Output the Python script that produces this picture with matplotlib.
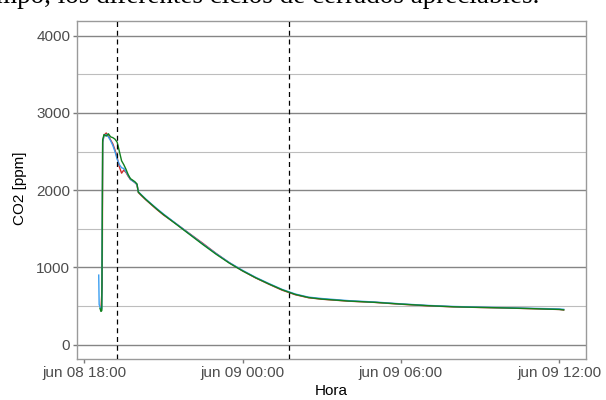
import matplotlib
matplotlib.use("Agg")
import matplotlib.pyplot as plt
import pandas as pd

# ---- data ----
times_green = ["2021-06-08 18:36", "2021-06-08 18:38", "2021-06-08 18:40", "2021-06-08 18:42",
               "2021-06-08 18:45", "2021-06-08 18:50", "2021-06-08 18:55", "2021-06-08 19:00",
               "2021-06-08 19:05", "2021-06-08 19:10", "2021-06-08 19:15", "2021-06-08 19:20",
               "2021-06-08 19:25", "2021-06-08 19:30", "2021-06-08 19:35", "2021-06-08 19:40",
               "2021-06-08 19:45", "2021-06-08 19:50", "2021-06-08 19:55", "2021-06-08 20:00",
               "2021-06-08 20:03", "2021-06-08 20:10", "2021-06-08 20:20", "2021-06-08 20:30",
               "2021-06-08 20:45", "2021-06-08 21:00", "2021-06-08 21:30", "2021-06-08 22:00",
               "2021-06-08 22:30", "2021-06-08 23:00", "2021-06-08 23:30", "2021-06-09 00:00",
               "2021-06-09 00:30", "2021-06-09 01:00", "2021-06-09 01:30", "2021-06-09 02:00",
               "2021-06-09 02:30", "2021-06-09 03:00", "2021-06-09 04:00", "2021-06-09 05:00",
               "2021-06-09 06:00", "2021-06-09 07:00", "2021-06-09 08:00", "2021-06-09 09:00",
               "2021-06-09 10:00", "2021-06-09 11:00", "2021-06-09 12:00", "2021-06-09 12:10"]
co2_green = [470, 430, 440, 2650, 2720, 2700, 2730, 2690, 2680, 2660, 2620, 2500,
             2380, 2330, 2270, 2200, 2150, 2130, 2110, 2080, 1975, 1935, 1880, 1830,
             1755, 1685, 1555, 1425, 1295, 1170, 1055, 955, 865, 785, 710, 650,
             610, 590, 565, 548, 525, 505, 490, 482, 475, 466, 456, 450]

times_red = ["2021-06-08 18:38", "2021-06-08 18:41", "2021-06-08 18:42", "2021-06-08 18:45",
             "2021-06-08 18:50", "2021-06-08 18:55", "2021-06-08 19:00", "2021-06-08 19:05",
             "2021-06-08 19:10", "2021-06-08 19:15", "2021-06-08 19:20", "2021-06-08 19:25",
             "2021-06-08 19:30", "2021-06-08 19:35", "2021-06-08 19:40", "2021-06-08 19:45",
             "2021-06-08 19:50", "2021-06-08 19:55", "2021-06-08 20:00", "2021-06-08 20:03",
             "2021-06-08 20:10", "2021-06-08 20:20", "2021-06-08 20:30", "2021-06-08 20:45",
             "2021-06-08 21:00", "2021-06-08 21:30", "2021-06-08 22:00", "2021-06-08 22:30",
             "2021-06-08 23:00", "2021-06-08 23:30", "2021-06-09 00:00", "2021-06-09 00:30",
             "2021-06-09 01:00", "2021-06-09 01:30", "2021-06-09 02:00", "2021-06-09 02:30",
             "2021-06-09 03:00", "2021-06-09 04:00", "2021-06-09 05:00", "2021-06-09 06:00",
             "2021-06-09 07:00", "2021-06-09 08:00", "2021-06-09 09:00", "2021-06-09 10:00",
             "2021-06-09 11:00", "2021-06-09 12:00", "2021-06-09 12:10"]
co2_red = [450, 760, 2620, 2710, 2740, 2700, 2650, 2600, 2520, 2420, 2300, 2220,
           2260, 2230, 2180, 2140, 2120, 2100, 2070, 1970, 1930, 1875, 1825, 1750,
           1680, 1560, 1435, 1310, 1180, 1060, 955, 863, 782, 705, 646,
           607, 588, 563, 547, 523, 503, 489, 481, 474, 465, 455, 449]

times_blue = ["2021-06-08 18:33", "2021-06-08 18:34", "2021-06-08 18:37", "2021-06-08 18:40",
              "2021-06-08 18:42", "2021-06-08 18:45", "2021-06-08 18:50", "2021-06-08 18:55",
              "2021-06-08 19:00", "2021-06-08 19:05", "2021-06-08 19:10", "2021-06-08 19:15",
              "2021-06-08 19:20", "2021-06-08 19:25", "2021-06-08 19:30", "2021-06-08 19:35",
              "2021-06-08 19:40", "2021-06-08 19:45", "2021-06-08 19:50", "2021-06-08 19:55",
              "2021-06-08 20:00", "2021-06-08 20:03", "2021-06-08 20:10", "2021-06-08 20:20",
              "2021-06-08 20:30", "2021-06-08 20:45", "2021-06-08 21:00", "2021-06-08 21:30",
              "2021-06-08 22:00", "2021-06-08 22:30", "2021-06-08 23:00", "2021-06-08 23:30",
              "2021-06-09 00:00", "2021-06-09 00:30", "2021-06-09 01:00", "2021-06-09 01:30",
              "2021-06-09 02:00", "2021-06-09 02:30", "2021-06-09 03:00", "2021-06-09 04:00",
              "2021-06-09 05:00", "2021-06-09 06:00", "2021-06-09 07:00", "2021-06-09 08:00",
              "2021-06-09 09:00", "2021-06-09 10:00", "2021-06-09 11:00", "2021-06-09 12:00",
              "2021-06-09 12:10"]
co2_blue = [900, 520, 470, 460, 2630, 2700, 2720, 2690, 2640, 2580, 2500, 2400,
            2330, 2290, 2280, 2240, 2190, 2140, 2120, 2100, 2075, 1980, 1940, 1885,
            1835, 1762, 1692, 1562, 1432, 1302, 1178, 1062, 962, 871, 791, 715, 655,
            615, 597, 570, 552, 528, 508, 494, 485, 478, 470, 462, 457]

vlines = ["2021-06-08 19:14", "2021-06-09 01:46"]
x_ticks = ["2021-06-08 18:00", "2021-06-09 00:00", "2021-06-09 06:00", "2021-06-09 12:00"]
x_ticklabels = ["jun 08 18:00", "jun 09 00:00", "jun 09 06:00", "jun 09 12:00"]
x_limits = ["2021-06-08 17:43", "2021-06-09 13:00"]
y_ticks = [0, 1000, 2000, 3000, 4000]
y_minor = [500, 1500, 2500, 3500]

caption = "mpo, los diferentes ciclos de cerrados apreciables."

plt.rcParams['font.family'] = ['Liberation Sans', 'DejaVu Sans']

fig = plt.figure(figsize=(6.06, 4.0), dpi=100)
ax = fig.add_axes([0.1266, 0.1025, 0.9665 - 0.1266, 0.9475 - 0.1025])

ax.plot(pd.to_datetime(times_red), co2_red, color="#cc2a2a", lw=1.0, zorder=3)
ax.plot(pd.to_datetime(times_blue), co2_blue, color="#3b9ef0", lw=1.0, zorder=4)
ax.plot(pd.to_datetime(times_green), co2_green, color="#12801e", lw=1.0, zorder=5)

for v in vlines:
    ax.axvline(pd.Timestamp(v), color="black", ls=(0, (4, 3)), lw=0.9, zorder=6)

for y in y_ticks:
    ax.axhline(y, color="#858585", lw=1.0, zorder=1)
for y in y_minor:
    ax.axhline(y, color="#bdbdbd", lw=0.8, zorder=1)

ax.set_xlim(pd.Timestamp(x_limits[0]), pd.Timestamp(x_limits[1]))
ax.set_ylim(-186, 4190)
ax.set_yticks(y_ticks)
ax.set_yticklabels([str(v) for v in y_ticks])
ax.set_xticks(pd.to_datetime(x_ticks))
ax.set_xticklabels(x_ticklabels)

ax.tick_params(axis='both', colors="#7a7a7a", length=3.2, width=1.0,
               labelcolor="#4d4d4d", labelsize=11, pad=1.5)
for s in ax.spines.values():
    s.set_color("#9a9a9a")
    s.set_linewidth(1.0)

ax.set_xlabel("Hora", fontsize=11, color="black", labelpad=3)
ax.set_ylabel("CO2 [ppm]", fontsize=11, color="black")
ax.yaxis.set_label_coords(-0.098, 0.506)

fig.text(-4 / 606, 1 - 3.0 / 400, caption, fontsize=19.5, family="Liberation Serif",
         va="baseline", ha="left", color="black")

fig.savefig("out.png", dpi=100)
